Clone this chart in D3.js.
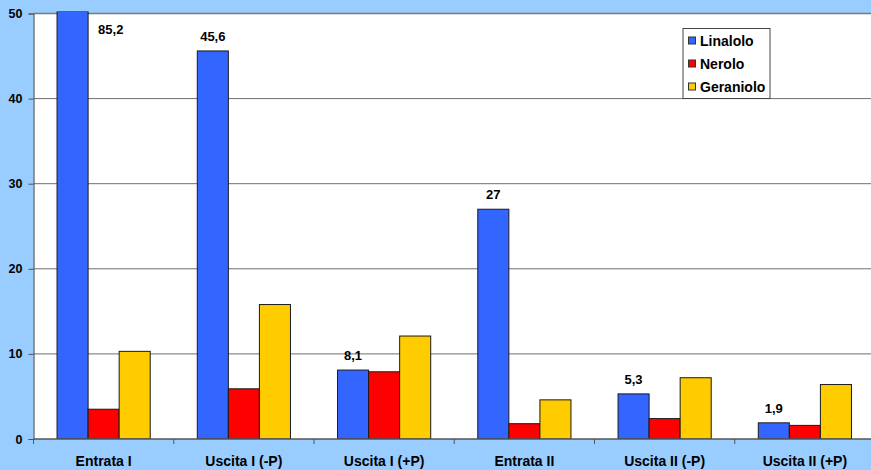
<!DOCTYPE html>
<html>
<head>
<meta charset="utf-8">
<script src="https://cdn.jsdelivr.net/npm/d3@7"></script>
<style>
  html, body { margin: 0; padding: 0; background: #99ccff; }
  svg { display: block; font-family: Arial, "Liberation Sans", sans-serif; }
</style>
</head>
<body>
<svg id="chart" width="871" height="470"></svg>
<script>
// Campioni e composti misurati
const categories = ["Entrata I", "Uscita I (-P)", "Uscita I (+P)", "Entrata II", "Uscita II (-P)", "Uscita II (+P)"];
const seriesNames = ["Linalolo", "Nerolo", "Geraniolo"];
const linalolo = [85.2, 45.6, 8.1, 27, 5.3, 1.9];
const nerolo = [3.5, 5.9, 7.9, 1.8, 2.4, 1.6];
const geraniolo = [10.3, 15.8, 12.1, 4.6, 7.2, 6.4];
const yTicks = [0, 10, 20, 30, 40, 50];
// Etichette di valore mostrate solo per il linalolo
const labelled = ["85,2", "45,6", "8,1", "27", "5,3", "1,9"];

const colors = { Linalolo: "#3366ff", Nerolo: "#ff0000", Geraniolo: "#ffcc00" };
const values = { Linalolo: linalolo, Nerolo: nerolo, Geraniolo: geraniolo };

const svg = d3.select("#chart");
const plotL = 33.5, plotR = 875, plotT = 13.5, plotB = 439;

const x = d3.scaleBand().domain(categories).range([plotL, plotR]).padding(0);
const xs = d3.scaleBand().domain(seriesNames).range([0, x.bandwidth()])
  .paddingInner(0).paddingOuter(0.758);
const y = d3.scaleLinear().domain([0, 50]).range([plotB, plotT]);

// Area del grafico
svg.append("rect").attr("x", plotL).attr("y", plotT)
  .attr("width", plotR - plotL).attr("height", plotB - plotT).attr("fill", "#ffffff");

svg.append("defs").append("clipPath").attr("id", "plot")
  .append("rect").attr("x", plotL).attr("y", plotT - 2)
  .attr("width", plotR - plotL).attr("height", plotB - plotT + 2);

// Griglia orizzontale
svg.append("g").selectAll("line").data(yTicks.filter(t => t > 0)).join("line")
  .attr("x1", plotL).attr("x2", 871)
  .attr("y1", d => y(d)).attr("y2", d => y(d))
  .attr("stroke", d => d === 50 ? "#7a7a7a" : "#6e6e6e")
  .attr("stroke-width", d => d === 50 ? 1.6 : 1);

// Barre
const groups = svg.append("g").attr("clip-path", "url(#plot)")
  .selectAll("g").data(categories).join("g")
  .attr("transform", d => `translate(${x(d)},0)`);

groups.selectAll("rect")
  .data((c, i) => seriesNames.map(s => ({ s, v: values[s][i] })))
  .join("rect")
  .attr("x", d => xs(d.s))
  .attr("y", d => y(Math.min(d.v, 50)) - (d.v > 50 ? 2 : 0))
  .attr("width", xs.bandwidth())
  .attr("height", d => plotB - y(Math.min(d.v, 50)) + (d.v > 50 ? 2 : 0))
  .attr("fill", d => colors[d.s])
  .attr("stroke", "#1a1a1a")
  .attr("stroke-width", 1);

// Etichette dei valori
svg.append("g").selectAll("text").data(categories).join("text")
  .attr("x", (c, i) => linalolo[i] > 50
    ? x(c) + xs("Linalolo") + xs.bandwidth() + 10
    : x(c) + xs("Linalolo") + xs.bandwidth() / 2)
  .attr("y", (c, i) => linalolo[i] > 50 ? 34 : y(linalolo[i]) - 10)
  .attr("text-anchor", (c, i) => linalolo[i] > 50 ? "start" : "middle")
  .attr("font-size", 13).attr("font-weight", "bold").attr("fill", "#000")
  .text((c, i) => labelled[i]);

// Asse Y
const yAxis = svg.append("g").attr("transform", `translate(${plotL},0)`)
  .call(d3.axisLeft(y).tickValues(yTicks).tickSize(5).tickPadding(6).tickFormat(d3.format("d")));
yAxis.select(".domain").attr("stroke", "#555").attr("stroke-width", 1.2);
yAxis.selectAll(".tick line").attr("stroke", "#555");
yAxis.selectAll(".tick text").attr("font-size", 12.5).attr("font-weight", "bold")
  .attr("fill", "#000").attr("font-family", "Arial, 'Liberation Sans', sans-serif");

// Asse X
const xAxisG = svg.append("g").attr("transform", `translate(0,${plotB})`);
xAxisG.append("line").attr("x1", plotL).attr("x2", 871).attr("y1", 0).attr("y2", 0)
  .attr("stroke", "#555").attr("stroke-width", 1.5);
xAxisG.selectAll("line.tk").data(categories).join("line").attr("class", "tk")
  .attr("x1", d => x(d)).attr("x2", d => x(d)).attr("y1", 0).attr("y2", 5)
  .attr("stroke", "#555");
xAxisG.selectAll("text").data(categories).join("text")
  .attr("x", d => x(d) + xs("Nerolo") + xs.bandwidth() / 2)
  .attr("y", 27)
  .attr("text-anchor", "middle")
  .attr("font-size", 14).attr("font-weight", "bold").attr("fill", "#000")
  .text(d => d);

// Legenda
const lg = svg.append("g").attr("transform", "translate(683,28.5)");
lg.append("rect").attr("width", 87).attr("height", 70)
  .attr("fill", "#fff").attr("stroke", "#444").attr("stroke-width", 1);
const items = lg.selectAll("g").data(seriesNames).join("g")
  .attr("transform", (d, i) => `translate(5,${12.5 + i * 23})`);
items.append("rect").attr("x", 0.5).attr("y", -4).attr("width", 7).attr("height", 7)
  .attr("fill", d => colors[d]).attr("stroke", "#333").attr("stroke-width", 1);
items.append("text").attr("x", 12).attr("y", 5)
  .attr("font-size", 14).attr("font-weight", "bold").attr("fill", "#000")
  .text(d => d);
</script>
</body>
</html>
